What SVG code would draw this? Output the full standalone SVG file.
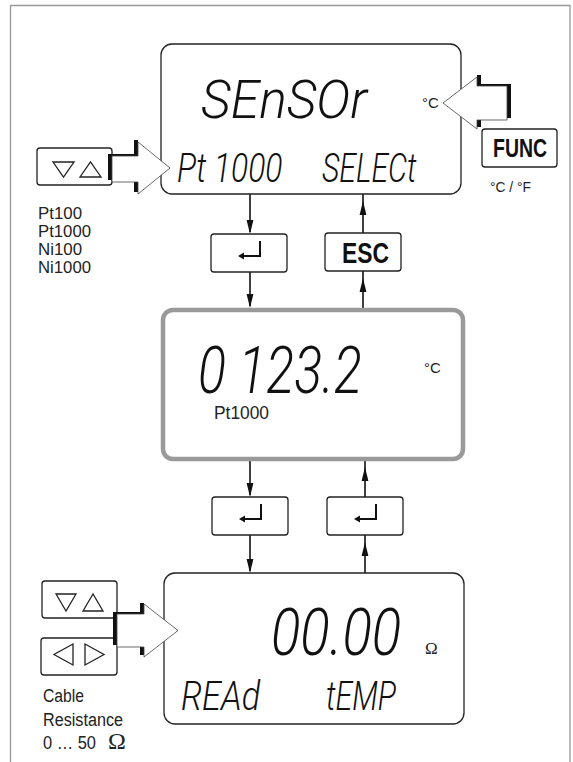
<svg xmlns="http://www.w3.org/2000/svg" width="573" height="762" viewBox="0 0 573 762">
<defs>
<style>
.frame{fill:none;stroke:#999;stroke-width:1.3}
.lcd{fill:#fff;stroke:#222;stroke-width:1.3}
.lcd2{fill:#fff;stroke:#9a9a9a;stroke-width:4.5}
.key{fill:#fff;stroke:#222;stroke-width:1.3}
.seg{font-family:Roboto,"Liberation Sans",sans-serif;font-style:italic;font-weight:300;fill:#111}
.lbl{font-family:"Liberation Sans",Arial,sans-serif;font-size:18px;fill:#222}
.list{font-family:"Liberation Sans",Arial,sans-serif;font-size:16px;fill:#222}
.small{font-family:"Liberation Sans",Arial,sans-serif;font-size:15px;fill:#222}
.bold{font-family:"Liberation Sans",Arial,sans-serif;font-weight:bold;fill:#111}
.tri{fill:none;stroke:#222;stroke-width:1.3;stroke-linejoin:miter}
.conn{stroke:#111;stroke-width:1.6;fill:none}
.ah{fill:#111}
.barrow{fill:#fff;stroke:#444;stroke-width:0.8}
.shade{fill:#111}
.glyph{fill:none;stroke:#111;stroke-width:2}
</style>
<path id="ahUp" d="M0,0 L-3.4,14 L3.4,14 Z"/>
<g id="enterGlyph">
<path class="glyph" d="M11,-12 V3 H-6"/>
<path d="M-11,3 L-5,-0.6 L-5,6.6 Z" fill="#111"/>
</g>
</defs>

<path class="frame" d="M10.5,770 V5.5 H570 V770"/>

<g id="connectors">
<line class="conn" x1="250" y1="194" x2="250" y2="232"/>
<use href="#ahUp" class="ah" transform="translate(250,234) rotate(180)"/>
<line class="conn" x1="363" y1="194" x2="363" y2="233"/>
<use href="#ahUp" class="ah" transform="translate(363,201)"/>
<line class="conn" x1="250" y1="272" x2="250" y2="306"/>
<use href="#ahUp" class="ah" transform="translate(250,308) rotate(180)"/>
<line class="conn" x1="363" y1="271" x2="363" y2="308"/>
<use href="#ahUp" class="ah" transform="translate(363,278)"/>
<line class="conn" x1="250" y1="461" x2="250" y2="495"/>
<use href="#ahUp" class="ah" transform="translate(250,497) rotate(180)"/>
<line class="conn" x1="365" y1="461" x2="365" y2="497"/>
<use href="#ahUp" class="ah" transform="translate(365,467)"/>
<line class="conn" x1="250" y1="535" x2="250" y2="571"/>
<use href="#ahUp" class="ah" transform="translate(250,573) rotate(180)"/>
<line class="conn" x1="365" y1="535" x2="365" y2="573"/>
<use href="#ahUp" class="ah" transform="translate(365,542)"/>
</g>

<g id="lcd-sensor">
<rect class="lcd" x="161" y="44" width="300" height="150" rx="11"/>
<text class="seg" transform="translate(201,118) scale(0.974,1)" font-size="53">SEnSOr</text>
<text class="small" x="422" y="108">°C</text>
<text class="seg" transform="translate(177,182) scale(0.777,1)" font-size="41">Pt 1000</text>
<text class="seg" transform="translate(322,182) scale(0.736,1)" font-size="41">SELECt</text>
</g>

<g id="lcd-temperature">
<rect class="lcd2" x="163" y="310" width="300" height="149" rx="10"/>
<text class="seg" transform="translate(198,393) scale(0.785,1)" font-size="66">0 123.2</text>
<text class="small" x="424" y="373">°C</text>
<text class="lbl" x="214" y="419" font-size="17" textLength="55" lengthAdjust="spacingAndGlyphs">Pt1000</text>
</g>

<g id="lcd-cable">
<rect class="lcd" x="164" y="573" width="300" height="151" rx="11"/>
<text class="seg" transform="translate(271,655) scale(0.827,1)" font-size="66">00.00</text>
<text x="425" y="654" font-family="'Liberation Serif',serif" font-size="17" fill="#222">Ω</text>
<text class="seg" transform="translate(181,710) scale(0.834,1)" font-size="41">REAd</text>
<text class="seg" transform="translate(326,710) scale(0.742,1)" font-size="41">tEMP</text>
</g>

<g id="key-updown-sensor">
<rect class="key" x="37" y="148" width="75" height="37" rx="3"/>
<polygon class="tri" points="53,162 74,162 63.5,177"/>
<polygon class="tri" points="80,177 101,177 90.5,162"/>
<path class="shade" d="M108,154 H134 V140 H138 V192 H134 V180 H108 Z"/>
<polygon class="barrow" points="112,156 138,156 138,142 170,168 138,194 138,182 112,182"/>
</g>

<g id="sensor-list">
<text class="list" x="38" y="219" textLength="44" lengthAdjust="spacingAndGlyphs">Pt100</text>
<text class="list" x="38" y="237" textLength="53" lengthAdjust="spacingAndGlyphs">Pt1000</text>
<text class="list" x="38" y="255" textLength="44" lengthAdjust="spacingAndGlyphs">Ni100</text>
<text class="list" x="38" y="273" textLength="53" lengthAdjust="spacingAndGlyphs">Ni1000</text>
</g>

<g id="key-func">
<path class="shade" d="M511,84 H481 V75 H477 V127 H481 V118 H511 Z"/>
<polygon class="barrow" points="443,103 477,77 477,86 507,86 507,120 477,120 477,129"/>
<rect class="key" x="482" y="129" width="75" height="38" rx="3"/>
<text class="bold" x="493" y="157" font-size="25.5" textLength="54" lengthAdjust="spacingAndGlyphs">FUNC</text>
<text class="small" x="490" y="192" font-size="12.5" textLength="41" lengthAdjust="spacingAndGlyphs">°C / °F</text>
</g>

<g id="key-enter-1">
<rect class="key" x="211" y="234" width="76" height="38" rx="3"/>
<use href="#enterGlyph" transform="translate(249,253)"/>
</g>

<g id="key-esc">
<rect class="key" x="325" y="233" width="76" height="38" rx="3"/>
<text class="bold" x="342" y="262.5" font-size="29" textLength="47" lengthAdjust="spacingAndGlyphs">ESC</text>
</g>

<g id="key-enter-2">
<rect class="key" x="212" y="497" width="76" height="38" rx="3"/>
<use href="#enterGlyph" transform="translate(250,516)"/>
</g>

<g id="key-enter-3">
<rect class="key" x="327" y="497" width="76" height="38" rx="3"/>
<use href="#enterGlyph" transform="translate(365,516)"/>
</g>

<g id="key-updown-cable">
<rect class="key" x="42" y="581" width="75" height="37" rx="3"/>
<polygon class="tri" points="56,594 76,594 66,611"/>
<polygon class="tri" points="83,611 103,611 93,594"/>
</g>

<g id="key-leftright-cable">
<rect class="key" x="41" y="638" width="76" height="37" rx="3"/>
<polygon class="tri" points="73,644 73,665 54,654.5"/>
<polygon class="tri" points="85,644 85,665 104,654.5"/>
</g>

<g id="cable-arrow">
<path class="shade" d="M113,612 H140 V603 H144 V655 H140 V645 H113 Z"/>
<polygon class="barrow" points="117,614 144,614 144,604 178,630.5 144,657 144,647 117,647"/>
</g>

<g id="cable-label">
<text class="lbl" x="43" y="702" textLength="41" lengthAdjust="spacingAndGlyphs">Cable</text>
<text class="lbl" x="43" y="726" textLength="80" lengthAdjust="spacingAndGlyphs">Resistance</text>
<text class="lbl" x="43" y="748.5" textLength="53" lengthAdjust="spacingAndGlyphs">0 … 50</text>
<text x="108" y="748.5" font-family="'Liberation Serif',serif" font-size="24" fill="#222">Ω</text>
</g>
</svg>
